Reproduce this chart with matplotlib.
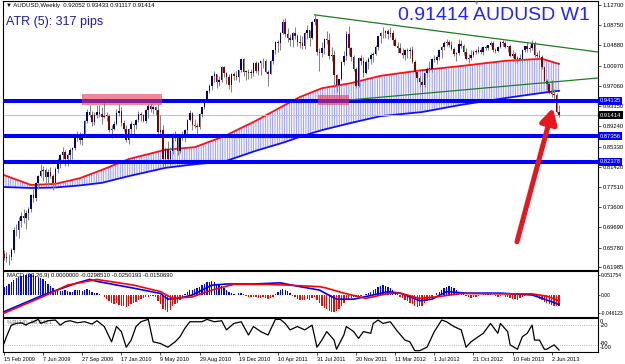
import numpy as np
import matplotlib
matplotlib.use("Agg")
import matplotlib.pyplot as plt
from matplotlib.patches import Rectangle
from matplotlib.transforms import blended_transform_factory as btf

plt.rcParams['font.family'] = ['Liberation Sans', 'DejaVu Sans']
plt.rcParams['hatch.linewidth'] = 0.5

# ---------------- DATA (weekly AUDUSD, 15 Feb 2009 .. 23 Jun 2013) ----------------
first_open = 0.646
closes = [
    0.637, 0.640, 0.639, 0.653, 0.691, 0.692, 0.710, 0.718, 0.715, 0.725,
    0.733, 0.759, 0.754, 0.782, 0.797, 0.806, 0.808, 0.795, 0.804, 0.797,
    0.782, 0.810, 0.824, 0.836, 0.843, 0.830, 0.837, 0.846, 0.850, 0.870,
    0.877, 0.865, 0.873, 0.903, 0.921, 0.915, 0.900, 0.915, 0.921, 0.916,
    0.910, 0.913, 0.913, 0.886, 0.888, 0.897,
    0.919, 0.922, 0.899, 0.887, 0.866, 0.888, 0.896, 0.894, 0.904, 0.917,
    0.914, 0.903, 0.923, 0.932, 0.925, 0.929, 0.924, 0.881, 0.885, 0.829,
    0.848, 0.829, 0.845, 0.876, 0.869, 0.844, 0.877, 0.870, 0.885, 0.905,
    0.918, 0.895, 0.893, 0.891, 0.917, 0.930, 0.943, 0.960, 0.970, 0.989,
    0.994, 0.979, 0.981, 1.008, 0.996, 0.988, 0.972, 0.994, 0.990, 0.987,
    1.001, 1.022,
    0.997, 0.998, 0.996, 0.996, 1.015, 0.999, 1.015, 1.018, 1.019, 0.998,
    0.994, 1.019, 1.039, 1.055, 1.054, 1.073, 1.095, 1.071, 1.063, 1.059,
    1.072, 1.068, 1.055, 1.053, 1.048, 1.073, 1.078, 1.063, 1.095, 1.099,
    1.036, 1.035, 1.044, 1.062, 1.060, 1.028, 1.031, 0.991, 0.972, 0.983,
    1.017, 1.029, 1.071, 1.044, 1.027, 1.003, 0.971, 1.025, 1.018, 0.995,
    1.016, 1.022,
    1.030, 1.033, 1.046, 1.067, 1.072, 1.072, 1.076, 1.070, 1.073, 1.060,
    1.048, 1.044, 1.035, 1.030, 1.040, 1.038, 1.040, 1.016, 0.998, 0.985,
    0.979, 0.972, 0.995, 1.004, 1.004, 1.023, 1.020, 1.027, 1.040, 1.045,
    1.054, 1.056, 1.050, 1.042, 1.033, 1.035, 1.051, 1.047, 1.037, 1.023,
    1.025, 1.031, 1.037, 1.037, 1.040, 1.036, 1.046, 1.044, 1.049, 1.053,
    1.039, 1.038, 1.046,
    1.056, 1.053, 1.045, 1.047, 1.028, 1.033, 1.023, 1.024, 1.022, 1.040,
    1.047, 1.041, 1.043, 1.054, 1.031, 1.028, 1.026, 1.007, 0.980, 0.974,
    0.957, 0.955, 0.952, 0.9205, 0.91414,
]
highs = [
    0.653, 0.650, 0.645, 0.657, 0.697, 0.703, 0.717, 0.726, 0.733, 0.730,
    0.737, 0.761, 0.771, 0.785, 0.799, 0.819, 0.816, 0.811, 0.809, 0.814,
    0.800, 0.814, 0.831, 0.838, 0.852, 0.846, 0.840, 0.850, 0.853, 0.872,
    0.883, 0.882, 0.879, 0.905, 0.925, 0.933, 0.922, 0.920, 0.933, 0.933,
    0.929, 0.937, 0.921, 0.917, 0.894, 0.903,
    0.925, 0.936, 0.929, 0.904, 0.895, 0.890, 0.903, 0.898, 0.907, 0.922,
    0.921, 0.917, 0.925, 0.936, 0.935, 0.933, 0.932, 0.936, 0.914, 0.894,
    0.853, 0.863, 0.853, 0.879, 0.883, 0.877, 0.878, 0.883, 0.888, 0.907,
    0.924, 0.921, 0.906, 0.898, 0.919, 0.931, 0.944, 0.962, 0.975, 0.992,
    0.999, 0.994, 0.990, 1.009, 1.009, 0.997, 0.993, 0.996, 0.998, 0.999,
    1.002, 1.025,
    1.025, 1.002, 1.003, 1.004, 1.016, 1.018, 1.016, 1.019, 1.025, 1.023,
    1.001, 1.020, 1.040, 1.058, 1.059, 1.074, 1.099, 1.101, 1.082, 1.070,
    1.074, 1.085, 1.070, 1.069, 1.067, 1.075, 1.088, 1.078, 1.097, 1.108,
    1.100, 1.043, 1.056, 1.064, 1.077, 1.073, 1.046, 1.039, 0.993, 0.983,
    1.018, 1.038, 1.076, 1.086, 1.045, 1.030, 1.007, 1.027, 1.030, 1.026,
    1.020, 1.026,
    1.035, 1.037, 1.049, 1.068, 1.074, 1.085, 1.078, 1.080, 1.085, 1.078,
    1.064, 1.055, 1.054, 1.043, 1.041, 1.043, 1.046, 1.047, 1.020, 1.002,
    0.989, 0.985, 0.996, 1.007, 1.018, 1.025, 1.031, 1.030, 1.041, 1.047,
    1.057, 1.062, 1.060, 1.058, 1.046, 1.037, 1.061, 1.060, 1.051, 1.044,
    1.032, 1.039, 1.040, 1.042, 1.048, 1.045, 1.047, 1.049, 1.050, 1.058,
    1.058, 1.044, 1.048,
    1.058, 1.060, 1.058, 1.048, 1.049, 1.040, 1.036, 1.028, 1.032, 1.041,
    1.048, 1.055, 1.049, 1.060, 1.058, 1.037, 1.039, 1.030, 1.008, 0.984,
    0.978, 0.981, 0.965, 0.957, 0.93433,
]
lows = [
    0.633, 0.630, 0.625, 0.634, 0.648, 0.680, 0.676, 0.698, 0.705, 0.694,
    0.711, 0.726, 0.745, 0.748, 0.771, 0.795, 0.787, 0.780, 0.778, 0.792,
    0.770, 0.775, 0.802, 0.812, 0.829, 0.816, 0.815, 0.828, 0.830, 0.847,
    0.863, 0.859, 0.856, 0.871, 0.899, 0.911, 0.892, 0.895, 0.909, 0.910,
    0.896, 0.908, 0.903, 0.882, 0.870, 0.886,
    0.894, 0.913, 0.893, 0.883, 0.862, 0.858, 0.872, 0.876, 0.887, 0.901,
    0.903, 0.901, 0.899, 0.909, 0.920, 0.917, 0.915, 0.871, 0.872, 0.813,
    0.816, 0.823, 0.815, 0.839, 0.863, 0.836, 0.841, 0.866, 0.862, 0.876,
    0.903, 0.886, 0.889, 0.872, 0.887, 0.910, 0.926, 0.941, 0.957, 0.963,
    0.979, 0.967, 0.971, 0.978, 0.988, 0.975, 0.965, 0.959, 0.982, 0.981,
    0.979, 0.997,
    0.990, 0.982, 0.983, 0.985, 0.989, 0.995, 0.991, 0.992, 1.006, 0.996,
    0.970, 0.993, 1.012, 1.033, 1.036, 1.040, 1.071, 1.066, 1.055, 1.047,
    1.046, 1.062, 1.047, 1.043, 1.041, 1.042, 1.061, 1.048, 1.062, 1.088,
    1.031, 1.000, 1.026, 1.033, 1.052, 1.022, 1.018, 0.972, 0.958, 0.939,
    0.982, 1.011, 1.021, 1.031, 1.018, 1.000, 0.966, 0.968, 1.010, 0.987,
    0.993, 1.004,
    1.012, 1.016, 1.030, 1.040, 1.054, 1.064, 1.064, 1.062, 1.066, 1.050,
    1.047, 1.035, 1.034, 1.024, 1.021, 1.025, 1.024, 1.015, 0.994, 0.979,
    0.969, 0.958, 0.968, 0.987, 0.997, 0.997, 1.017, 1.013, 1.021, 1.025,
    1.040, 1.047, 1.045, 1.039, 1.029, 1.018, 1.031, 1.043, 1.030, 1.020,
    1.015, 1.020, 1.026, 1.032, 1.034, 1.032, 1.031, 1.040, 1.040, 1.047,
    1.036, 1.034, 1.036,
    1.043, 1.047, 1.043, 1.037, 1.026, 1.025, 1.018, 1.014, 1.019, 1.017,
    1.036, 1.036, 1.036, 1.039, 1.026, 1.021, 1.023, 1.004, 0.977, 0.963,
    0.954, 0.950, 0.943, 0.918, 0.91117,
]

# moving-average band (red = upper MA, blue = lower MA), read at sample bars
ma_idx = [0, 11, 21, 31, 40, 51, 66, 78, 90, 103, 115, 121, 130, 142, 154, 171, 187, 205, 220, 227]
ma_red = [0.798, 0.779, 0.781, 0.792, 0.808, 0.829, 0.847, 0.852, 0.873, 0.903,
          0.934, 0.949, 0.966, 0.976, 0.990, 1.001, 1.009, 1.019, 1.023, 1.013]
ma_blue = [0.775, 0.773, 0.774, 0.778, 0.783, 0.796, 0.812, 0.819, 0.824, 0.845,
           0.862, 0.872, 0.885, 0.899, 0.912, 0.920, 0.934, 0.947, 0.957, 0.961]

levels = [0.94135, 0.87356, 0.82378]
bid = 0.91414
trend_upper_idx = [127, 242.9]
trend_upper_val = [1.108, 1.0361]
trend_lower_idx = [141.1, 242.9]
trend_lower_val = [0.9432, 0.9858]
zones = [(31.9, 64.6, 0.9336, 0.9549), (128.4, 141.1, 0.9336, 0.9529)]
arrow_from = (209.8, 0.669)
arrow_to = (224.5, 0.928)

price_ticks = [1.12700, 1.08750, 1.04880, 1.00970, 0.97060, 0.93150, 0.89240,
               0.85330, 0.81420, 0.77510, 0.73600, 0.69690, 0.65780, 0.61985]

macd_hist = [
    0.020, 0.024, 0.028, 0.034, 0.040, 0.044, 0.048, 0.050, 0.052, 0.053, 0.054,
    0.054, 0.052, 0.050, 0.048, 0.046, 0.042, 0.036, 0.030, 0.024, 0.018,
    0.014, 0.012, 0.010, 0.010, 0.012, 0.010, 0.008, 0.009, 0.012, 0.014,
    0.012, 0.010, 0.014, 0.016, 0.012, 0.008, 0.006, 0.005, 0.003, 0.001,
    -0.004, -0.010, -0.016, -0.020, -0.024, -0.022, -0.026, -0.028, -0.030, -0.031,
    -0.028, -0.024, -0.022, -0.018, -0.014, -0.010, -0.008, -0.006, -0.004, -0.003, -0.002,
    -0.004, -0.016, -0.024, -0.036, -0.040, -0.044, -0.040, -0.030, -0.024, -0.022, -0.012,
    -0.004, 0.002, 0.008,
    0.012, 0.014, 0.016, 0.018, 0.022, 0.026, 0.030, 0.033, 0.035, 0.036,
    0.034, 0.030, 0.026, 0.024, 0.018, 0.012, 0.008, 0.004, 0.002,
    0.001, 0.004, 0.006, 0.002, -0.002, -0.004, -0.006, -0.004, -0.006, -0.008,
    -0.008, -0.006, -0.008, -0.010, -0.008, -0.004, 0.002,
    0.008, 0.012, 0.016, 0.014, 0.010, 0.004, -0.002,
    -0.006, -0.010, -0.012, -0.014, -0.012, -0.010, -0.012, -0.008, -0.006, -0.012, -0.020,
    -0.028, -0.034, -0.038, -0.042, -0.044, -0.044, -0.042, -0.038, -0.030, -0.022,
    -0.012, -0.010, -0.008, -0.006,
    -0.006, -0.004, -0.002, 0.000, 0.002,
    0.004, 0.008, 0.012, 0.016, 0.020, 0.024, 0.026, 0.025, 0.022, 0.018, 0.012, 0.006, 0.002,
    -0.004, -0.008, -0.012, -0.016, -0.020, -0.024, -0.028, -0.031, -0.030, -0.028,
    -0.022, -0.016, -0.010, -0.005, -0.001,
    0.004, 0.008, 0.012, 0.018, 0.022, 0.024, 0.022, 0.018, 0.012, 0.008, 0.006, 0.002,
    -0.002, -0.006, -0.008, -0.006, -0.004, -0.002, 0.001, 0.002, 0.002, 0.003,
    0.002, 0.001, -0.002, -0.004, -0.002, 0.000, -0.004, -0.006,
    -0.008, -0.010, -0.010, -0.012, -0.008, -0.004, -0.002, 0.000, 0.001, 0.002, -0.002, -0.006,
    -0.010, -0.014, -0.018, -0.022, -0.024, -0.026, -0.028, -0.029, -0.0299,
]
macd_idx = [0, 16, 30, 35, 38, 53, 64, 67, 72, 77, 85, 91, 102, 113, 121, 129, 136, 143,
            151, 157, 162, 170, 175, 181, 189, 203, 216, 222, 227]
macd_main = [-0.044, 0.000, 0.032, 0.041, 0.036, 0.018, 0.004, -0.011, -0.008, 0.000,
             0.026, 0.029, 0.029, 0.032, 0.022, 0.013, -0.011, -0.011, 0.000, 0.009,
             0.005, -0.015, -0.011, 0.009, 0.005, 0.005, 0.000, -0.013, -0.025]
signal_idx = [0, 16, 26, 38, 53, 64, 69, 77, 85, 94, 108, 116, 129, 132, 139, 148, 157,
              162, 170, 178, 187, 203, 216, 222, 227]
macd_signal = [-0.048, -0.004, 0.026, 0.041, 0.026, 0.009, -0.009, -0.005, 0.013, 0.028,
               0.028, 0.026, 0.022, 0.018, 0.005, -0.009, 0.004, 0.005, -0.009, -0.004,
               0.004, 0.003, 0.003, -0.003, -0.015]

wpr_idx = [0, 1, 3, 5, 7, 9, 10, 12, 14, 15, 18, 21, 23, 25, 27, 30, 33, 36, 38, 41,
           44, 46, 48, 50, 52, 54, 56, 59, 61, 64, 67, 70, 72, 74, 76, 81, 83, 86, 89, 91,
           94, 97, 100, 102, 105, 108, 111, 113, 115, 117, 120, 123, 126, 128, 130, 132,
           135, 136, 139, 140, 143, 145, 147, 150, 151, 153, 155, 158, 161, 164, 166, 168,
           170, 173, 176, 179, 181, 184, 187, 189, 191, 194, 196, 199, 202, 203, 206, 207,
           210, 212, 214, 216, 217, 219, 221, 222, 225, 227]
wpr_vals = [-75, -55, -21, -16, -14, -21, -16, -11, -4, -16, -8, -6, -21, -11, -8, -14,
            -11, -18, -8, -25, -70, -25, -40, -86, -65, -25, -11, -4, -70, -75, -86, -70,
            -55, -30, -11, -11, -4, -11, -8, -35, -16, -11, -50, -25, -40, -50, -4, -4,
            -16, -35, -25, -35, -21, -86, -65, -40, -65, -92, -50, -25, -40, -60, -40, -45,
            -16, -6, -16, -11, -40, -65, -70, -96, -96, -86, -40, -6, -11, -25, -35, -86,
            -70, -55, -45, -16, -45, -16, -40, -79, -92, -55, -45, -21, -65, -65, -92, -92,
            -79, -94]

date_idx = [0, 16, 32, 48, 64, 80, 96, 112, 128, 144, 160, 176, 192, 208, 224]
date_labels = ['15 Feb 2009', '7 Jun 2009', '27 Sep 2009', '17 Jan 2010', '9 May 2010',
               '29 Aug 2010', '19 Dec 2010', '10 Apr 2011', '31 Jul 2011', '20 Nov 2011',
               '11 Mar 2012', '1 Jul 2012', '21 Oct 2012', '10 Feb 2013', '2 Jun 2013']

# ---------------- FIGURE ----------------
W, H = 625, 364
fig = plt.figure(figsize=(W / 100, H / 100), dpi=100)
fig.patch.set_facecolor('white')


def rect(x0, y0, x1, y1):
    return [x0 / W, 1 - y1 / H, (x1 - x0) / W, (y1 - y0) / H]


PX = 2.445
XL, XR = (3 - 4) / PX, (598 - 4) / PX

ax = fig.add_axes(rect(3, 1, 598, 270))
axm = fig.add_axes(rect(3, 271, 598, 317))
axw = fig.add_axes(rect(3, 318, 598, 352))
for a in (ax, axm, axw):
    a.set_xlim(XL, XR)
    a.set_facecolor('white')
    for s in a.spines.values():
        s.set_color('black')
        s.set_linewidth(0.8)
    a.yaxis.tick_right()
    a.tick_params(axis='y', labelsize=4.2, length=2, width=0.5, pad=1.5, colors='black')
    a.tick_params(axis='x', bottom=False, labelbottom=False)

# ---- main price panel ----
ax.set_ylim(0.61443, 1.13474)
ax.set_yticks(price_ticks)
ax.set_yticklabels(['%.5f' % v for v in price_ticks])

n = len(closes)
idx = np.arange(n)
c = np.array(closes)
o = np.array([first_open] + closes[:-1])
hi = np.array(highs)
lo = np.array(lows)
up = c >= o

ax.fill_between(ma_idx, ma_blue, ma_red, facecolor='#f4f5ff',
                edgecolor=(0.22, 0.22, 1.0, 0.62),
                hatch='|||||||', linewidth=0, zorder=1)
ax.plot(ma_idx, ma_red, color='#ff1010', lw=1.3, zorder=2)
ax.plot(ma_idx, ma_blue, color='#1010ff', lw=1.3, zorder=2)
ax.axhline(bid, color='#c0c0c0', lw=0.7, zorder=2)

ax.vlines(idx, lo, hi, color='#808080', lw=0.7, zorder=3)
ax.bar(idx, np.maximum(np.abs(c - o), 0.0015), bottom=np.minimum(o, c), width=0.62,
       color=np.where(up, '#000080', '#800000'), edgecolor='none', zorder=4)

for lv in levels:
    ax.axhline(lv, color='#0000ff', lw=2.9, zorder=5)

for (x0, x1, y0, y1) in zones:
    ax.add_patch(Rectangle((x0, y0), x1 - x0, y1 - y0, facecolor='#e8384f',
                           edgecolor='none', alpha=0.6, zorder=6))

ax.plot(trend_upper_idx, trend_upper_val, color='#1e7d1e', lw=0.9, zorder=6)
ax.plot(trend_lower_idx, trend_lower_val, color='#1e7d1e', lw=0.9, zorder=6)

ax.annotate('', xy=arrow_to, xytext=arrow_from, zorder=8,
            arrowprops=dict(arrowstyle='-|>,head_length=0.9,head_width=0.5',
                            color='#e8161e', lw=3.6, mutation_scale=10,
                            shrinkA=0, shrinkB=0))

tr = btf(ax.transAxes, ax.transData)
for lv in levels:
    ax.text(1.003, lv, '%.5f' % lv, transform=tr, fontsize=4.2, color='white',
            va='center', ha='left', zorder=10, clip_on=False,
            bbox=dict(boxstyle='square,pad=0.25', fc='#0000ff', ec='none'))
ax.text(1.003, bid, '%.5f' % bid, transform=tr, fontsize=4.2, color='white',
        va='center', ha='left', zorder=10, clip_on=False,
        bbox=dict(boxstyle='square,pad=0.25', fc='black', ec='none'))

# ---- MACD panel ----
axm.set_ylim(-0.0579, 0.0632)
mh = np.array(macd_hist)
axm.bar(np.arange(len(mh)), mh, width=0.55,
        color=np.where(mh >= 0, '#0000ff', '#ff0000'), edgecolor='none', zorder=2)
axm.plot(macd_idx, macd_main, color='#0000ff', lw=1.2, zorder=3)
axm.plot(signal_idx, macd_signal, color='#ff0000', lw=1.2, zorder=3)
axm.set_yticks([0.051754, 0.0, -0.046123])
axm.set_yticklabels(['0.051754', '0.00', '-0.046123'])
axm.tick_params(axis='y', labelsize=3.6, pad=0.6, length=1.2)
axm.text(0.006, 0.9, 'MACD (12,26,9) 0.0000000 -0.0298510 -0.0250193 -0.0150690',
         transform=axm.transAxes, fontsize=4.2, va='center', ha='left', zorder=1)

# ---- Williams %R panel ----
axw.set_ylim(-100, 0)
axw.axhline(-20, color='#a0a0a0', lw=0.6, ls=':', zorder=1)
axw.axhline(-80, color='#a0a0a0', lw=0.6, ls=':', zorder=1)
axw.plot(wpr_idx, wpr_vals, color='black', lw=0.9, zorder=3)
axw.set_yticks([-8, -21, -74, -86])
axw.set_yticklabels(['0', '-20', '-80', '-100'])
axw.tick_params(axis='y', length=0)
axw.text(0.006, 0.88, '%R(14) -96.8421', transform=axw.transAxes, fontsize=4.2,
         va='center', ha='left', color='#707070', zorder=1)
axw.set_xticks(date_idx)
axw.set_xticklabels(date_labels)
axw.tick_params(axis='x', bottom=True, labelbottom=True, length=2, width=0.5,
                labelsize=4.0, pad=1.5)
for lab in axw.get_xticklabels():
    lab.set_ha('left')

# ---- texts ----
fig.text(6 / W, 1 - 6 / H, '\u25bc AUDUSD,Weekly  0.92052 0.93433 0.91117 0.91414',
         fontsize=4.3, va='center', ha='left', color='black')
fig.text(6 / W, 1 - 22 / H, 'ATR (5): 317 pips', fontsize=9, va='center', ha='left',
         color='#1c1ca6')
fig.text(590 / W, 1 - 16 / H, '0.91414 AUDUSD W1', fontsize=14, va='center', ha='right',
         color='#2323ff')
fig.text(477 / W, 1 - 3 / H, '\u25bc', fontsize=4, va='center', ha='center', color='#909090')

fig.savefig('out.png', dpi=100)
